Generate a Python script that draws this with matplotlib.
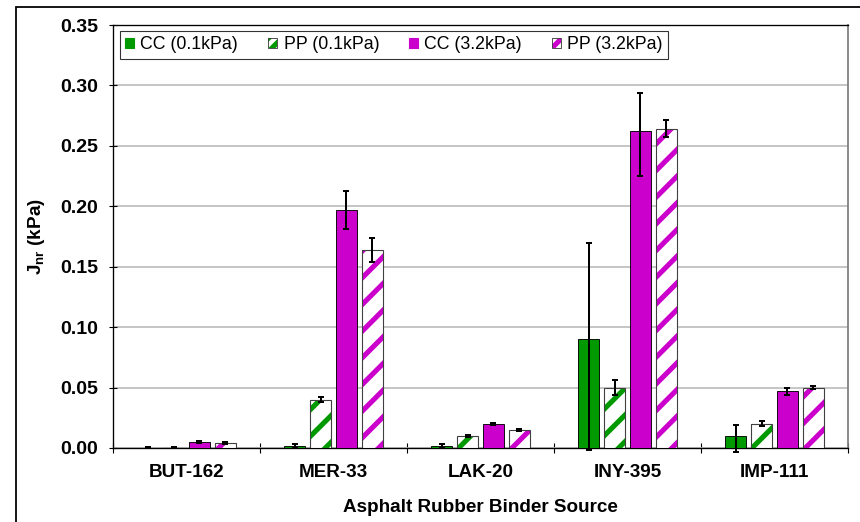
import matplotlib
matplotlib.use("Agg")
import matplotlib.pyplot as plt
from matplotlib.patches import Rectangle, Patch
from matplotlib.legend_handler import HandlerTuple
import numpy as np

plt.rcParams['font.family'] = ['Liberation Sans', 'DejaVu Sans']
plt.rcParams['mathtext.fontset'] = 'custom'
plt.rcParams['mathtext.rm'] = 'Liberation Sans'
plt.rcParams['mathtext.bf'] = 'Liberation Sans:bold'
plt.rcParams['hatch.linewidth'] = 4.6

# data
sources = ['BUT-162', 'MER-33', 'LAK-20', 'INY-395', 'IMP-111']
cc_01 = [0.0003, 0.0018, 0.0018, 0.090, 0.010]
cc_01_lo = [0.0002, 0.0018, 0.0018, 0.092, 0.013]
cc_01_hi = [0.0002, 0.0018, 0.0018, 0.080, 0.009]
pp_01 = [0.0003, 0.040, 0.010, 0.050, 0.020]
pp_01_err = [0.0002, 0.002, 0.001, 0.0065, 0.002]
cc_32 = [0.005, 0.197, 0.020, 0.262, 0.047]
cc_32_lo = [0.001, 0.0155, 0.001, 0.037, 0.003]
cc_32_hi = [0.001, 0.0155, 0.001, 0.032, 0.003]
pp_32 = [0.004, 0.164, 0.015, 0.264, 0.050]
pp_32_err = [0.0008, 0.010, 0.001, 0.007, 0.0015]

green = '#009900'
magenta = '#cc00cc'

fig = plt.figure(figsize=(10.75, 6.525), dpi=80)
ax = fig.add_axes([113/860, 1-448/522, 735/860, 423/522])

x = np.arange(len(sources))
w = 0.143
offs = [-0.265, -0.088, 0.088, 0.265]
ekw = dict(fmt='none', ecolor='black', elinewidth=1.8, capsize=2.7, capthick=1.8, clip_on=False, zorder=5)

# CC 0.1 kPa
ax.bar(x + offs[0], cc_01, w, color=green, edgecolor='black', linewidth=0.8, zorder=3)
ax.errorbar(x + offs[0], cc_01, yerr=[cc_01_lo, cc_01_hi], **ekw)
# PP 0.1 kPa
ax.bar(x + offs[1], pp_01, w, color='white', edgecolor=green, hatch='/', linewidth=0, zorder=3)
ax.bar(x + offs[1], pp_01, w, fill=False, edgecolor='#404040', linewidth=1.0, zorder=4)
ax.errorbar(x + offs[1], pp_01, yerr=pp_01_err, **ekw)
# CC 3.2 kPa
ax.bar(x + offs[2], cc_32, w, color=magenta, edgecolor='black', linewidth=0.8, zorder=3)
ax.errorbar(x + offs[2], cc_32, yerr=[cc_32_lo, cc_32_hi], **ekw)
# PP 3.2 kPa
ax.bar(x + offs[3], pp_32, w, color='white', edgecolor=magenta, hatch='/', linewidth=0, zorder=3)
ax.bar(x + offs[3], pp_32, w, fill=False, edgecolor='#404040', linewidth=1.0, zorder=4)
ax.errorbar(x + offs[3], pp_32, yerr=pp_32_err, **ekw)

ax.set_xlim(-0.5, len(sources) - 0.5)
ax.set_ylim(0, 0.35)
ax.set_yticks(np.arange(0, 0.351, 0.05))
ax.set_yticklabels(['%.2f' % v for v in np.arange(0, 0.351, 0.05)], fontsize=17.5, fontweight='bold')
ax.yaxis.grid(True, color='#c0c0c0', linewidth=1.6, zorder=0)
ax.set_axisbelow(True)

ax.set_xticks(np.arange(-0.5, len(sources), 1.0))
ax.set_xticklabels([])
ax.set_xticks(x, minor=True)
ax.set_xticklabels(sources, minor=True, fontsize=17, fontweight='bold')
ax.tick_params(axis='x', which='major', direction='inout', length=9, width=1)
ax.tick_params(axis='x', which='minor', length=0, pad=14)
ax.tick_params(axis='y', direction='inout', length=7, width=1, pad=10)

ax.spines['left'].set_linewidth(1.2)
ax.spines['bottom'].set_linewidth(1.2)
ax.spines['top'].set_color('black')
ax.spines['top'].set_linewidth(1.2)
ax.spines['right'].set_color('#808080')
ax.spines['right'].set_linewidth(1.6)

ax.set_xlabel('Asphalt Rubber Binder Source', fontsize=17, fontweight='bold', labelpad=17)
ax.set_ylabel(r'$\mathbf{J_{nr}}$ (kPa)', fontsize=17, fontweight='bold', labelpad=12)

outline = dict(fill=False, edgecolor='#404040', linewidth=0.8)
handles = [Patch(facecolor=green, edgecolor=green),
           (Patch(facecolor='white', edgecolor=green, hatch='//', linewidth=0), Patch(**outline)),
           Patch(facecolor=magenta, edgecolor=magenta),
           (Patch(facecolor='white', edgecolor=magenta, hatch='//', linewidth=0), Patch(**outline))]
labels = ['CC (0.1kPa)', 'PP (0.1kPa)', 'CC (3.2kPa)', 'PP (3.2kPa)']
leg = ax.legend(handles, labels, loc='upper left', bbox_to_anchor=(7/735, 1 - 6/423),
                borderaxespad=0, ncol=4, fontsize=16, frameon=True, fancybox=False,
                handlelength=0.5, handleheight=0.5, handletextpad=0.35, columnspacing=1.7,
                borderpad=0.3, handler_map={tuple: HandlerTuple(ndivide=1, pad=0)})
leg.get_frame().set_edgecolor('black')
leg.get_frame().set_linewidth(1.0)

fig.patches.append(Rectangle((16/860, -0.1), 1.0, 1 - 7/522 + 0.1, transform=fig.transFigure,
                             fill=False, edgecolor='black', linewidth=1.6))

fig.savefig('out.png', dpi=80)
